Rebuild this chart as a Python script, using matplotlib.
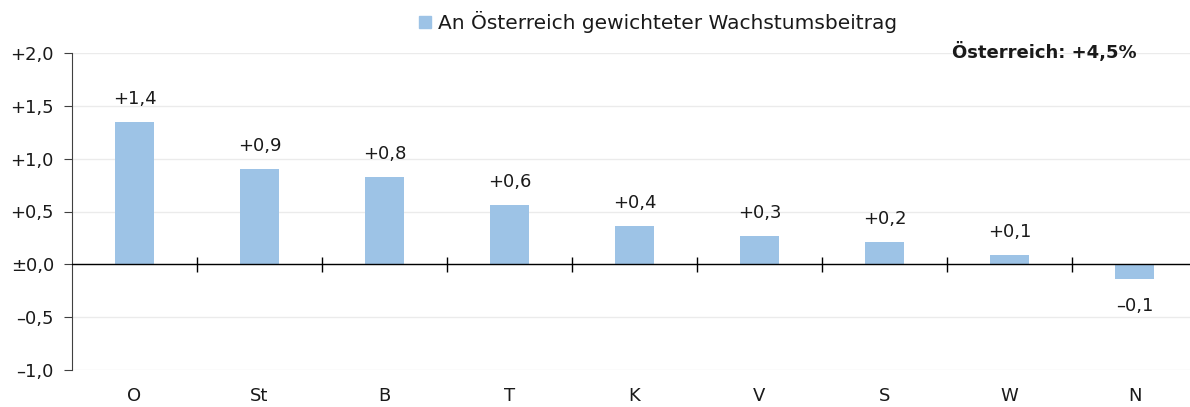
import numpy as np
import matplotlib
import matplotlib.pyplot as plt
from matplotlib.patches import Patch

# data
categories = ["O", "St", "B", "T", "K", "V", "S", "W", "N"]
values = [1.35, 0.90, 0.83, 0.56, 0.36, 0.27, 0.21, 0.09, -0.14]
value_labels = ["+1,4", "+0,9", "+0,8", "+0,6", "+0,4", "+0,3", "+0,2", "+0,1", "\u20130,1"]
yticks = [-1.0, -0.5, 0.0, 0.5, 1.0, 1.5, 2.0]
yticklabels = ["\u20131,0", "\u20130,5", "\u00b10,0", "+0,5", "+1,0", "+1,5", "+2,0"]
legend_label = "An Österreich gewichteter Wachstumsbeitrag"
total_label = "Österreich: +4,5%"

plt.rcParams["font.family"] = ["DejaVu Sans"]
fsize = 13
bar_color = "#9dc3e6"
text_color = "#1a1a1a"

W, H = 1190, 407
fig = plt.figure(figsize=(W / 100, H / 100), dpi=100)
# axes spans a bit past the right edge like the original
ax = fig.add_axes([72 / W, 37 / H, 1125 / W, 317 / H])

x = np.arange(len(categories))
bars = ax.bar(x, values, width=0.31, color=bar_color, zorder=3)

ax.set_xlim(-0.5, len(categories) - 0.5)
ax.set_ylim(-1.0, 2.0)
ax.set_yticks(yticks)
ax.set_yticklabels(yticklabels)
ax.yaxis.grid(True, color="#ebebeb", linewidth=1, zorder=0)
ax.set_axisbelow(True)

for s in ["top", "right", "bottom"]:
    ax.spines[s].set_visible(False)
ax.spines["left"].set_color("#404040")
ax.tick_params(axis="y", direction="out", length=6, color="#404040",
               labelsize=fsize, labelcolor=text_color, pad=7)
ax.set_xticks(x)
ax.set_xticklabels(categories)
ax.tick_params(axis="x", length=0, labelsize=fsize, labelcolor=text_color, pad=12)

# zero line with category separators
ax.axhline(0, color="black", linewidth=1, zorder=4)
bounds = x[:-1] + 0.5
ax.vlines(bounds, -0.07, 0.07, color="black", linewidth=1, zorder=4)

for xi, v, lab in zip(x, values, value_labels):
    if v >= 0:
        ax.annotate(lab, (xi, v), xytext=(0, 10), textcoords="offset points",
                    ha="center", va="bottom", fontsize=fsize, color=text_color)
    else:
        ax.annotate(lab, (xi, v), xytext=(0, -13), textcoords="offset points",
                    ha="center", va="top", fontsize=fsize, color=text_color)

fig.text(1137 / W, 1 - 52 / H, total_label, ha="right", va="center",
         fontsize=fsize, fontweight="bold", color=text_color)

fig.legend(handles=[Patch(color=bar_color)], labels=[legend_label],
           loc="center", bbox_to_anchor=(658 / W, 1 - 22 / H), frameon=False,
           fontsize=14.5, handlelength=0.6, handleheight=0.6,
           handletextpad=0.3, labelcolor=text_color)

plt.savefig("out.png", dpi=100)
